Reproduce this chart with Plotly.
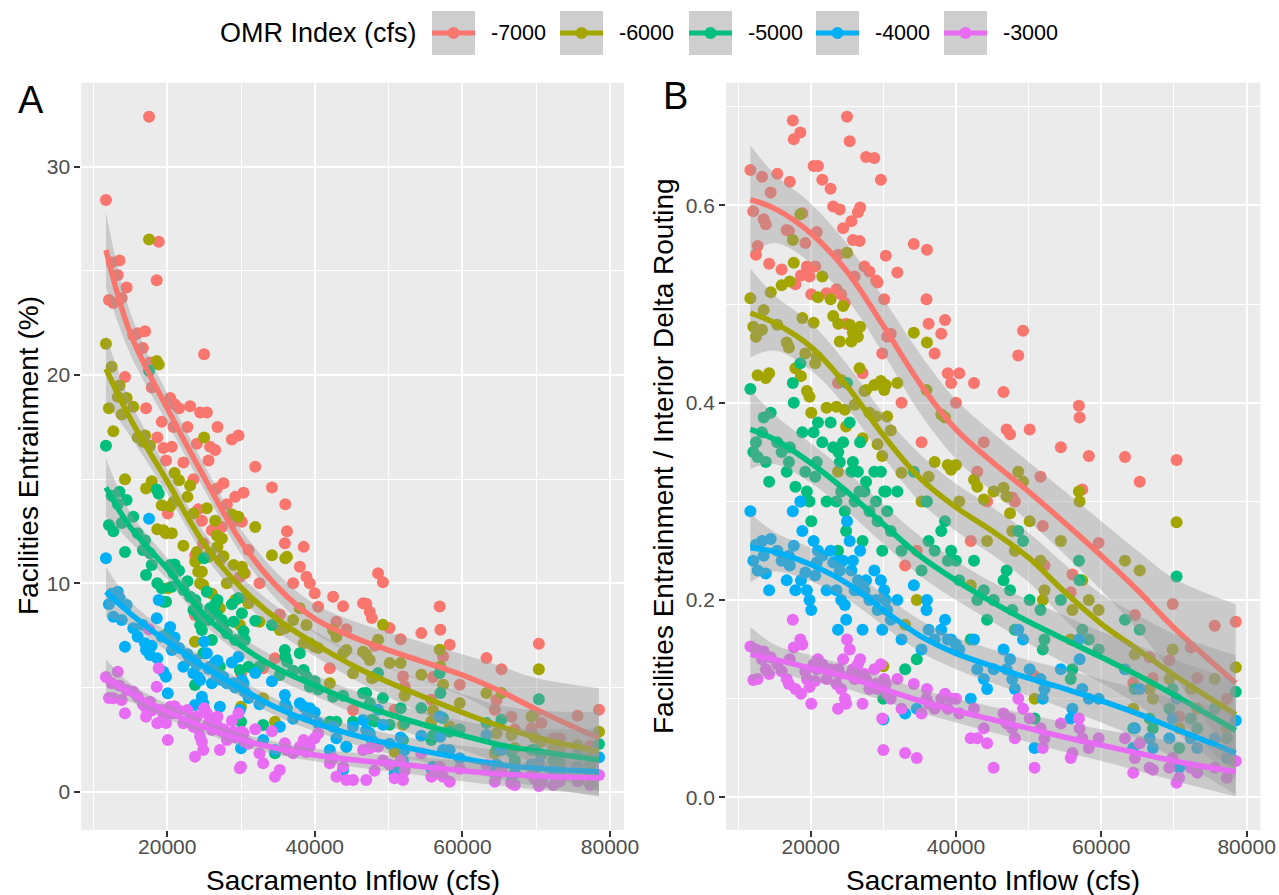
import plotly.graph_objects as go

# ---------------- data ----------------
LEVELS = ['-7000', '-6000', '-5000', '-4000', '-3000']
COLORS = ['#F8766D', '#A3A500', '#00BF7D', '#00B0F6', '#E76BF3']

# Sacramento inflow (cfs), shared by every OMR scenario and both panels
X = [11700, 12100, 12470, 12700, 13300, 13530, 13830, 14280, 14500, 15400,
     16000, 16700, 17000, 17130, 17540, 17670, 17900, 18580, 18660, 18850,
     19260, 19480, 19840, 20080, 20400, 20620, 20840, 21000, 21600, 22190,
     22740, 23100, 23550, 23760, 23800, 24010, 24200, 24460, 24700, 24880,
     25000, 25370, 25600, 25810, 26050, 26500, 26730, 26810, 27140, 27400,
     27620, 28080, 28760, 28990, 29210, 29660, 29850, 30000, 30120, 30340,
     30520, 31020, 31930, 32500, 33000, 34190, 34600, 35260, 35940, 36000,
     36230, 37060, 37970, 38490, 38870, 39320, 39990, 40450, 42030, 42480,
     42930, 43830, 44280, 45180, 46540, 46970, 47440, 47740, 48100, 48570,
     49230, 50140, 50810, 51630, 51950, 52170, 54430, 55790, 56020, 56920,
     57010, 57380, 58280, 59640, 63260, 64390, 64620, 65290, 66650, 67100,
     69370, 69820, 70360, 70720, 72310, 73210, 75610, 77290, 78510]

# Panel A: Facilities Entrainment (%)
A_m7000 = [28.4, 23.6, 25.4, 23.45, 24.8, 25.5, 23.7, 19.9, 24.2, 21.9,
           22.0, 21.3, 22.1, 18.4, 32.4, 20.6, 19.4, 24.55, 17.0, 26.4,
           17.75, 16.5, 15.9, 13.35, 18.9, 16.55, 17.5, 18.6, 18.4, 15.8,
           17.5, 18.5, 15.0, 8.48, 11.35, 16.7, 13.55, 18.2, 13.0, 11.92,
           21.0, 18.2, 15.9, 16.55, 12.55, 16.4, 14.55, 17.5, 11.12, 12.7,
           14.8, 13.8, 16.9, 12.95, 14.15, 17.1, 10.32, 5.68, 12.95, 14.35,
           10.48, 11.6, 15.6, 10.0, 5.92, 14.6, 6.4, 8.5, 11.92, 13.8,
           12.5, 10.0, 10.8, 11.75, 10.32, 10.0, 9.52, 8.88, 5.92, 9.36,
           8.16, 8.9, 7.8, 3.92, 9.04, 9.02, 8.64, 8.33, 7.0, 10.48,
           10.05, 7.85, 3.93, 7.32, 5.53, 5.05, 7.61, 4.41, 5.5, 8.89,
           7.77, 6.49, 7.05, 5.13, 6.41, 3.93, 4.4, 5.88, 3.6, 3.0,
           3.04, 3.77, 7.1, 3.3, 2.56, 2.56, 3.64, 2.2, 3.93]
A_m6000 = [21.5, 18.4, 20.4, 17.3, 18.95, 19.5, 18.1, 15.0, 18.9, 18.47,
           17.0, 16.8, 17.1, 14.55, 26.5, 16.6, 14.9, 20.67, 12.6, 20.5,
           13.75, 12.55, 12.4, 9.76, 13.7, 12.4, 13.9, 15.3, 14.95, 11.8,
           14.15, 14.7, 13.35, 7.2, 11.04, 11.5, 10.56, 10.0, 10.56, 9.92,
           17.0, 13.6, 11.28, 11.44, 9.5, 13.0, 12.3, 11.76, 8.8, 12.15,
           11.3, 10.0, 13.3, 10.88, 9.2, 13.2, 8.0, 4.08, 10.8, 10.5,
           9.28, 9.04, 12.7, 8.16, 4.48, 11.35, 3.36, 7.76, 7.84, 11.2,
           11.27, 8.24, 8.8, 7.12, 8.0, 7.12, 6.96, 6.9, 5.2, 7.76,
           7.44, 6.64, 6.8, 5.68, 6.72, 6.57, 6.32, 5.44, 5.53, 7.29,
           8.01, 6.17, 1.92, 6.17, 3.21, 4.6, 5.61, 3.37, 3.9, 6.81,
           6.01, 5.13, 3.13, 4.25, 4.73, 1.84, 2.8, 4.73, 2.72, 2.1,
           3.61, 2.6, 5.88, 2.4, 2.1, 2.0, 2.24, 1.7, 2.88]
A_m5000 = [16.6, 12.8, 14.2, 12.5, 13.8, 14.4, 12.9, 11.5, 14.0, 13.2,
           12.4, 11.6, 12.07, 10.4, 20.2, 11.44, 10.88, 14.5, 10.0, 14.3,
           9.76, 9.12, 9.12, 7.6, 10.88, 9.84, 10.48, 10.9, 10.6, 9.68,
           10.1, 9.36, 8.72, 5.12, 9.2, 8.88, 8.48, 8.0, 7.76, 6.64,
           11.2, 9.6, 8.24, 8.8, 7.28, 9.0, 8.5, 9.2, 6.0, 8.24,
           8.0, 7.6, 9.0, 8.16, 7.28, 9.3, 5.84, 3.36, 8.56, 7.7,
           7.28, 6.0, 8.2, 6.0, 3.2, 8.0, 1.84, 5.6, 6.8, 6.48,
           6.24, 5.8, 6.64, 5.84, 5.52, 5.04, 5.3, 4.9, 3.36, 4.56,
           3.36, 4.6, 2.16, 3.36, 4.72, 4.73, 4.24, 3.45, 3.37, 5.69,
           4.49, 3.21, 1.12, 4.0, 2.48, 3.3, 4.01, 2.48, 2.7, 5.69,
           4.73, 3.53, 2.88, 3.0, 3.29, 1.2, 2.0, 3.45, 1.9, 1.5,
           2.0, 2.0, 4.44, 1.8, 1.5, 1.4, 1.8, 1.3, 2.29]
A_m4000 = [11.2, 9.0, 9.5, 8.4, 9.6, 9.3, 8.24, 6.96, 8.96, 7.84,
           7.44, 8.0, 7.12, 6.8, 13.1, 6.56, 7.0, 8.32, 6.4, 9.2,
           7.44, 5.76, 5.52, 4.72, 7.9, 6.8, 7.04, 7.4, 6.9, 6.0,
           6.6, 6.32, 5.68, 4.16, 6.32, 6.08, 5.5, 5.36, 4.56, 4.24,
           7.2, 6.64, 5.9, 6.0, 5.2, 6.2, 5.6, 6.3, 4.08, 5.36,
           5.5, 5.2, 6.2, 5.2, 5.0, 6.48, 3.92, 2.08, 5.36, 5.2,
           4.8, 4.5, 5.7, 4.2, 2.48, 5.3, 2.0, 3.12, 4.64, 4.2,
           4.0, 3.5, 4.24, 4.08, 3.6, 4.0, 3.8, 3.3, 2.0, 3.12,
           2.56, 1.04, 2.16, 3.12, 3.44, 2.96, 2.8, 2.48, 2.2, 3.93,
           3.21, 2.3, 0.88, 2.6, 1.5, 2.0, 2.68, 1.12, 1.2, 3.61,
           2.64, 2.0, 2.0, 1.6, 2.72, 0.88, 1.3, 2.0, 0.48, 0.9,
           1.3, 1.1, 1.4, 0.56, 1.0, 0.9, 1.2, 0.8, 1.65]
A_m3000 = [5.5, 4.5, 5.2, 4.48, 5.76, 5.1, 4.4, 3.76, 4.88, 4.8,
           4.56, 4.2, 4.08, 3.6, 7.8, 4.32, 3.9, 5.04, 3.28, 5.92,
           3.92, 3.6, 3.3, 2.48, 4.08, 3.76, 3.76, 4.1, 3.9, 3.28,
           3.92, 3.5, 3.12, 1.68, 3.12, 3.6, 3.0, 2.64, 2.4, 2.0,
           4.0, 3.76, 3.28, 3.4, 2.96, 3.5, 3.2, 3.6, 2.0, 2.9,
           3.0, 2.48, 3.4, 2.88, 2.6, 3.76, 1.12, 1.2, 2.88, 2.8,
           2.4, 2.3, 3.0, 1.84, 1.36, 2.9, 0.72, 1.04, 2.32, 2.1,
           2.0, 1.84, 2.16, 2.48, 1.9, 2.16, 2.56, 2.8, 1.36, 1.6,
           0.72, 1.2, 0.56, 0.56, 2.0, 0.56, 2.08, 2.16, 1.0, 2.16,
           1.5, 1.3, 0.64, 1.5, 0.56, 1.0, 1.84, 0.72, 0.8, 1.2,
           1.0, 0.72, 0.48, 1.1, 1.28, 0.48, 0.8, 1.0, 0.4, 0.32,
           0.8, 0.6, 0.27, 0.4, 0.32, 0.5, 0.5, 0.32, 0.8]

# Panel B: Facilities Entrainment / Interior Delta Routing
B_m7000 = [.636, .594, .55, .559, .629, .586, .581, .541, .613, .632,
           .535, .575, .574, .624, .686, .667, .52, .674, .529, .592,
           .562, .538, .528, .51, .64, .538, .573, .64, .626, .511,
           .617, .599, .515, .42, .55, .596, .51, .577, .501, .48,
           .69, .665, .584, .565, .528, .593, .564, .598, .43, .538,
           .649, .533, .648, .524, .522, .626, .45, .202, .505, .549,
           .467, .47, .532, .4, .235, .561, .25, .36, .505, .555,
           .48, .45, .47, .484, .43, .42, .40, .43, .26, .42,
           .33, .36, .3, .2, .411, .373, .368, .304, .3, .448,
           .473, .373, .123, .325, .275, .235, .355, .208, .226, .397,
           .385, .312, .346, .258, .345, .116, .185, .32, .142, .121,
           .139, .196, .342, .082, .152, .121, .174, .1, .178]
B_m6000 = [.506, .477, .467, .428, .474, .494, .425, .43, .512, .479,
           .519, .461, .456, .523, .565, .542, .435, .591, .427, .486,
           .45, .412, .406, .39, .481, .44, .447, .507, .528, .395,
           .505, .488, .396, .33, .48, .462, .423, .498, .393, .376,
           .552, .479, .462, .471, .398, .467, .435, .477, .364, .412,
           .413, .39, .418, .386, .358, .422, .346, .133, .413, .418,
           .386, .372, .42, .329, .175, .471, .2, .3, .413, .461,
           .325, .34, .388, .385, .337, .332, .337, .3, .215, .322,
           .315, .302, .26, .31, .314, .305, .288, .27, .25, .33,
           .32, .28, .1, .24, .2, .21, .26, .16, .19, .31,
           .3, .22, .2, .19, .24, .09, .145, .23, .11, .1,
           .12, .15, .279, .07, .11, .09, .12, .07, .132]
B_m5000 = [.414, .35, .36, .345, .37, .385, .34, .32, .39, .36,
           .35, .33, .34, .355, .42, .40, .315, .44, .30, .37,
           .33, .31, .30, .28, .37, .325, .34, .38, .36, .30,
           .38, .355, .30, .25, .35, .34, .31, .36, .29, .27,
           .42, .38, .33, .34, .30, .33, .31, .36, .26, .31,
           .32, .29, .33, .30, .28, .33, .25, .10, .31, .31,
           .29, .27, .31, .25, .13, .33, .14, .23, .30, .30,
           .26, .25, .27, .28, .24, .25, .24, .22, .16, .24,
           .20, .21, .18, .20, .22, .23, .21, .19, .17, .27,
           .26, .20, .08, .19, .15, .16, .20, .12, .13, .24,
           .22, .17, .16, .15, .18, .07, .11, .17, .08, .07,
           .09, .11, .224, .05, .08, .07, .09, .06, .107]
B_m4000 = [.29, .24, .256, .23, .26, .245, .227, .21, .262, .25,
           .24, .22, .245, .235, .29, .255, .21, .30, .22, .27,
           .228, .21, .20, .19, .26, .225, .238, .25, .245, .21,
           .25, .238, .21, .17, .24, .23, .20, .24, .195, .18,
           .28, .26, .23, .24, .21, .22, .21, .25, .17, .21,
           .22, .20, .23, .20, .19, .22, .17, .079, .21, .20,
           .19, .18, .20, .16, .085, .215, .09, .15, .19, .20,
           .17, .16, .17, .18, .16, .16, .155, .15, .10, .16,
           .13, .12, .11, .13, .15, .13, .14, .12, .11, .17,
           .16, .13, .05, .12, .10, .11, .13, .08, .09, .16,
           .14, .11, .10, .10, .13, .05, .07, .11, .06, .05,
           .06, .08, .10, .03, .06, .05, .06, .04, .078]
B_m3000 = [.153, .119, .15, .12, .14, .148, .13, .125, .142, .135,
           .128, .12, .115, .14, .18, .152, .11, .16, .105, .155,
           .128, .12, .112, .095, .135, .118, .13, .14, .135, .12,
           .13, .128, .115, .09, .13, .125, .11, .14, .10, .095,
           .16, .15, .125, .13, .12, .135, .125, .14, .095, .125,
           .12, .11, .13, .115, .11, .135, .08, .048, .12, .115,
           .105, .10, .12, .09, .045, .115, .04, .085, .10, .11,
           .095, .09, .10, .105, .09, .10, .10, .085, .06, .09,
           .06, .07, .055, .03, .085, .075, .08, .07, .06, .10,
           .09, .08, .03, .07, .05, .06, .075, .04, .045, .08,
           .07, .06, .05, .06, .06, .025, .04, .055, .03, .028,
           .03, .04, .015, .02, .03, .025, .03, .02, .037]

# loess smooths (fit and half-width of the 95% band)
A_NODES = [11700, 15000, 20000, 25000, 30000, 35000, 40000, 46000, 52000, 60000, 65000, 70000, 78500]
A_FIT = [
    [26.0, 22.0, 18.4, 15.1, 12.0, 9.8, 8.3, 7.3, 6.55, 5.6, 4.85, 3.95, 2.56],
    [20.3, 17.9, 14.9, 11.9, 9.8, 8.25, 7.1, 5.9, 4.95, 3.8, 3.15, 2.6, 1.92],
    [14.6, 12.7, 10.7, 8.5, 7.0, 5.9, 5.1, 4.2, 3.5, 2.7, 2.25, 1.95, 1.52],
    [9.6, 8.55, 7.2, 6.0, 4.95, 4.0, 3.3, 2.65, 2.15, 1.6, 1.3, 1.12, 0.96],
    [5.45, 4.75, 3.85, 3.1, 2.5, 2.07, 1.76, 1.5, 1.3, 1.0, 0.85, 0.75, 0.65],
]
A_SE = [
    [1.8, 1.0, 0.7, 0.6, 0.6, 0.65, 0.7, 0.8, 0.9, 1.0, 1.2, 1.5, 2.4],
    [1.6, 0.85, 0.6, 0.55, 0.55, 0.6, 0.6, 0.65, 0.75, 0.9, 1.0, 1.3, 1.9],
    [1.4, 0.7, 0.5, 0.45, 0.45, 0.5, 0.5, 0.55, 0.6, 0.7, 0.85, 1.05, 1.5],
    [1.2, 0.6, 0.45, 0.4, 0.4, 0.4, 0.4, 0.45, 0.5, 0.6, 0.7, 0.85, 1.2],
    [0.9, 0.45, 0.35, 0.3, 0.3, 0.3, 0.3, 0.35, 0.4, 0.5, 0.55, 0.65, 0.8],
]
B_NODES = [11700, 15000, 20000, 25000, 30000, 35000, 40000, 45000, 50000, 55000, 60000, 65000, 70000, 78500]
B_FIT = [
    [0.606, 0.597, 0.572, 0.533, 0.478, 0.42, 0.373, 0.34, 0.31, 0.278, 0.245, 0.21, 0.172, 0.116],
    [0.491, 0.481, 0.457, 0.417, 0.367, 0.324, 0.294, 0.27, 0.243, 0.208, 0.176, 0.15, 0.124, 0.084],
    [0.373, 0.363, 0.339, 0.31, 0.277, 0.245, 0.22, 0.198, 0.178, 0.16, 0.142, 0.124, 0.104, 0.068],
    [0.253, 0.249, 0.236, 0.217, 0.19, 0.164, 0.146, 0.133, 0.121, 0.11, 0.098, 0.085, 0.07, 0.045],
    [0.145, 0.14, 0.131, 0.122, 0.11, 0.098, 0.088, 0.079, 0.07, 0.061, 0.053, 0.045, 0.037, 0.026],
]
B_SE = [
    [0.055, 0.035, 0.03, 0.028, 0.028, 0.03, 0.03, 0.03, 0.03, 0.032, 0.035, 0.04, 0.05, 0.08],
    [0.045, 0.028, 0.024, 0.022, 0.022, 0.024, 0.024, 0.024, 0.025, 0.028, 0.03, 0.035, 0.042, 0.06],
    [0.04, 0.025, 0.02, 0.02, 0.02, 0.02, 0.02, 0.02, 0.022, 0.024, 0.026, 0.03, 0.036, 0.05],
    [0.035, 0.02, 0.017, 0.016, 0.016, 0.016, 0.016, 0.017, 0.018, 0.02, 0.022, 0.025, 0.03, 0.042],
    [0.028, 0.015, 0.013, 0.012, 0.012, 0.012, 0.012, 0.013, 0.014, 0.015, 0.016, 0.018, 0.02, 0.025],
]

X_TICKS = [20000, 40000, 60000, 80000]
X_TICKTEXT = ['20000', '40000', '60000', '80000']
X_MINOR = [10000, 30000, 50000, 70000]
A_TICKS = [0, 10, 20, 30]
A_MINOR = [5, 15, 25]
B_TICKS = [0.0, 0.2, 0.4, 0.6]
B_TICKTEXT = ['0.0', '0.2', '0.4', '0.6']
B_MINOR = [0.1, 0.3, 0.5, 0.7]

# ---------------- figure ----------------
W, H = 1279, 895
FONT = 'Liberation Sans, Arial, sans-serif'
RIBBON = 'rgba(153,153,153,0.4)'


def px(x):
    return x / W


def py(y):
    return 1 - y / H


fig = go.Figure()


def add_panel(xa, ya, series, nodes, fits, ses):
    for ys, c in zip(series, COLORS):
        fig.add_trace(go.Scatter(x=X, y=ys, mode='markers', xaxis=xa, yaxis=ya,
                                 marker=dict(color=c, size=12, line=dict(width=0)),
                                 showlegend=False, hoverinfo='skip'))
    for f, s, c in zip(fits, ses, COLORS):
        lower = [a - b for a, b in zip(f, s)]
        upper = [a + b for a, b in zip(f, s)]
        fig.add_trace(go.Scatter(x=nodes, y=lower, mode='lines', xaxis=xa, yaxis=ya,
                                 line=dict(width=0, shape='spline', color=RIBBON),
                                 showlegend=False, hoverinfo='skip'))
        fig.add_trace(go.Scatter(x=nodes, y=upper, mode='lines', xaxis=xa, yaxis=ya,
                                 fill='tonexty', fillcolor=RIBBON,
                                 line=dict(width=0, shape='spline', color=RIBBON),
                                 showlegend=False, hoverinfo='skip'))
        fig.add_trace(go.Scatter(x=nodes, y=f, mode='lines', xaxis=xa, yaxis=ya,
                                 line=dict(color=c, width=5.5, shape='spline'),
                                 showlegend=False, hoverinfo='skip'))


add_panel('x', 'y', [A_m7000, A_m6000, A_m5000, A_m4000, A_m3000], A_NODES, A_FIT, A_SE)
add_panel('x2', 'y2', [B_m7000, B_m6000, B_m5000, B_m4000, B_m3000], B_NODES, B_FIT, B_SE)

tickfont = dict(family=FONT, size=21, color='#4D4D4D')
common = dict(showgrid=True, gridcolor='white', gridwidth=2.2, zeroline=False, showline=False,
              ticks='outside', ticklen=6, tickwidth=1.6, tickcolor='#333333', tickfont=tickfont,
              automargin=False, ticklabeloverflow='allow')
minor = dict(showgrid=True, gridcolor='white', gridwidth=1.1, ticks='')

Y_BOTTOM, Y_TOP = 830, 82.7
ydom = [py(Y_BOTTOM), py(Y_TOP)]

fig.update_layout(
    width=W, height=H, margin=dict(l=0, r=0, t=0, b=0, autoexpand=False),
    paper_bgcolor='white', plot_bgcolor='#EBEBEB', showlegend=False,
    xaxis=dict(domain=[px(81.3), px(623.9)], range=[8358, 81882], tickvals=X_TICKS, ticktext=X_TICKTEXT,
               minor=dict(tickvals=X_MINOR, **minor), anchor='y', ticklabelstandoff=-8, **common),
    yaxis=dict(domain=ydom, range=[-1.84, 34.03], tickvals=A_TICKS,
               minor=dict(tickvals=A_MINOR, **minor), anchor='x', **common),
    xaxis2=dict(domain=[px(726.1), px(1260.3)], range=[8358, 81882], tickvals=X_TICKS, ticktext=X_TICKTEXT,
                minor=dict(tickvals=X_MINOR, **minor), anchor='y2', ticklabelstandoff=-8, **common),
    yaxis2=dict(domain=ydom, range=[-0.033, 0.7244], tickvals=B_TICKS, ticktext=B_TICKTEXT,
                minor=dict(tickvals=B_MINOR, **minor), anchor='x2', **common),
)

ann = []
title_font = dict(family=FONT, size=28, color='black')
ann.append(dict(text='Sacramento Inflow (cfs)', x=px((81.3 + 623.9) / 2), y=py(880), xref='paper', yref='paper',
                xanchor='center', yanchor='middle', showarrow=False, font=title_font))
ann.append(dict(text='Sacramento Inflow (cfs)', x=px((726.1 + 1260.3) / 2), y=py(880), xref='paper', yref='paper',
                xanchor='center', yanchor='middle', showarrow=False, font=title_font))
ann.append(dict(text='Facilities Entrainment (%)', x=px(28), y=py(456), xref='paper', yref='paper',
                xanchor='center', yanchor='middle', textangle=-90, showarrow=False, font=title_font))
ann.append(dict(text='Facilities Entrainment / Interior Delta Routing', x=px(663), y=py(456), xref='paper',
                yref='paper', xanchor='center', yanchor='middle', textangle=-90, showarrow=False, font=title_font))
ann.append(dict(text='A', x=px(31), y=py(100), xref='paper', yref='paper', xanchor='center', yanchor='middle',
                showarrow=False, font=dict(family=FONT, size=38, color='black')))
ann.append(dict(text='B', x=px(676), y=py(96), xref='paper', yref='paper', xanchor='center', yanchor='middle',
                showarrow=False, font=dict(family=FONT, size=38, color='black')))

# legend (drawn by hand to mimic the ggplot guide)
ann.append(dict(text='OMR Index (cfs)', x=px(218), y=py(33), xref='paper', yref='paper', xanchor='left',
                yanchor='middle', showarrow=False, font=dict(family=FONT, size=27, color='black')))
shapes = []
KEY_LEFT = [432, 560, 689, 816, 944]
for left, lab, c in zip(KEY_LEFT, LEVELS, COLORS):
    shapes.append(dict(type='rect', xref='paper', yref='paper', x0=px(left), x1=px(left + 43),
                       y0=py(55), y1=py(11), fillcolor='#CECECE', line=dict(width=0), layer='above'))
    shapes.append(dict(type='line', xref='paper', yref='paper', x0=px(left), x1=px(left + 43),
                       y0=py(33), y1=py(33), line=dict(color=c, width=5), layer='above'))
    shapes.append(dict(type='circle', xref='paper', yref='paper', x0=px(left + 15.5), x1=px(left + 27.5),
                       y0=py(39), y1=py(27), fillcolor=c, line=dict(width=0), layer='above'))
    ann.append(dict(text=lab, x=px(left + 57), y=py(33), xref='paper', yref='paper', xanchor='left',
                    yanchor='middle', showarrow=False, font=dict(family=FONT, size=21.5, color='black')))

fig.update_layout(annotations=ann, shapes=shapes)
fig.write_html('out.html')
